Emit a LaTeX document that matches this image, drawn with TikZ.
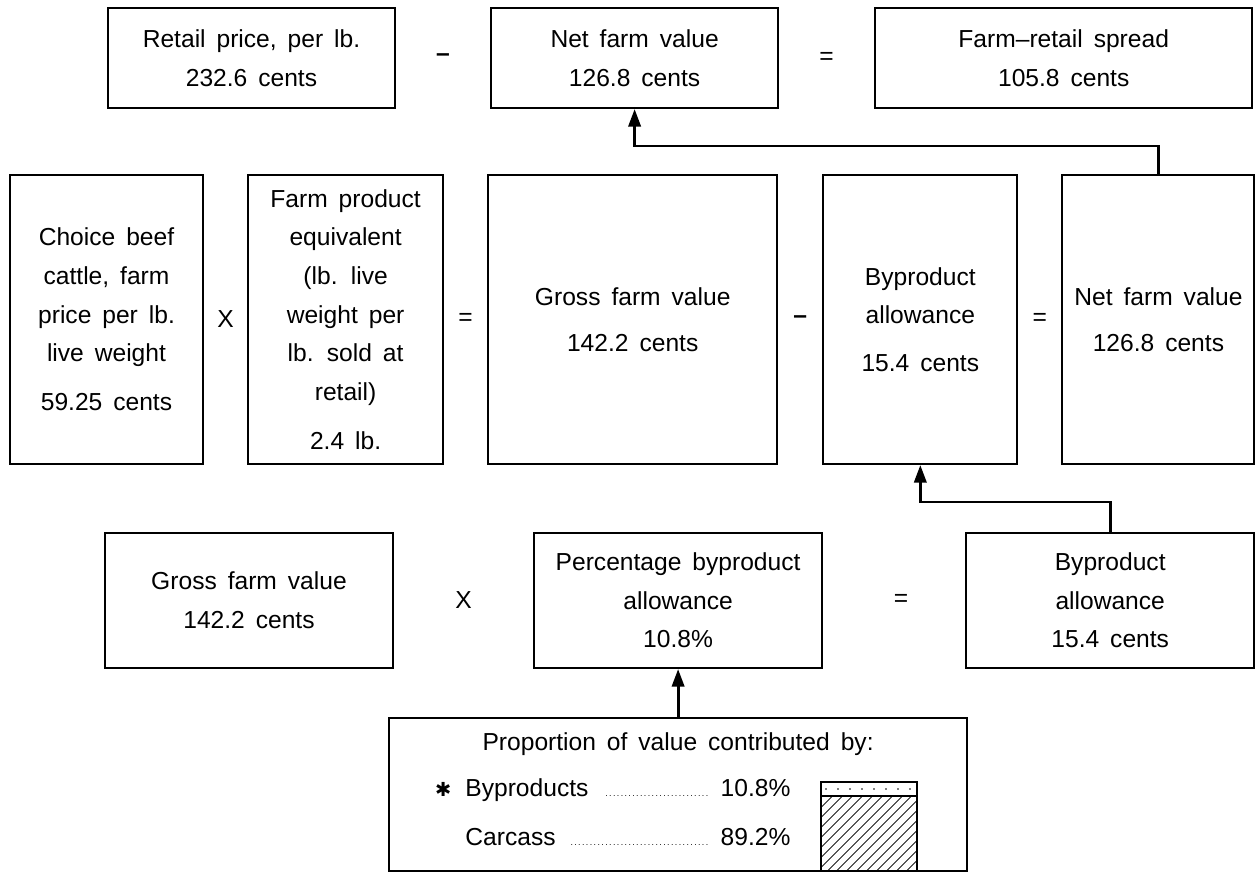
\documentclass[tikz,border=0pt]{standalone}
\usepackage{fontspec}
\setmainfont{Liberation Sans}[WordSpace=1.6]
\newfontfamily\symfont{DejaVu Sans}
\usetikzlibrary{arrows.meta,positioning,calc,patterns.meta}
\newcommand\dotlead{\leaders\hbox to 2.2pt{\hss\tiny.\hss}\hfill}
\tikzset{
  box/.style={draw,line width=1.2pt,align=center,inner sep=2pt,font=\fontsize{14}{22}\selectfont},
  op/.style={font=\fontsize{14}{22}\selectfont,inner sep=1pt},
  >={Triangle[length=10pt,width=7pt]}
}

\begin{document}
\begin{tikzpicture}[
      top/.style={box,minimum width=5.74cm,minimum height=2cm},
      mid/.style={box,minimum height=5.78cm},
      low/.style={box,minimum width=5.76cm,minimum height=2.7cm},
      txt/.style={font=\fontsize{14}{22}\selectfont,inner sep=0pt},
      link/.style={->,line width=1.6pt}]
    \useasboundingbox (0,0) rectangle (25.16,-17.46);
    \node[top] (retail) at (5.03,-1.16) {Retail price, per lb.\\ 232.6 cents};
    \node[top,right=1.88cm of retail] (nettop) {Net farm value\\ 126.8 cents};
    \node[top,minimum width=7.54cm,right=1.9cm of nettop] (spread) {Farm--retail spread\\ 105.8 cents};
    \node[op,font=\fontsize{14}{22}\selectfont\bfseries] (minus1) at ($(retail.east)!0.5!(nettop.west)$) {--};
    \node[op] (eq1) at ($(nettop.east)!0.5!(spread.west)$) {=};
    \node[mid,minimum width=3.86cm] (beef) at (2.13,-6.39) {Choice beef\\ cattle, farm\\ price per lb.\\ live weight\\[6pt] 59.25 cents};
    \node[mid,minimum width=3.9cm,right=0.86cm of beef] (fpe) {Farm product\\ equivalent\\ (lb. live\\ weight per\\ lb. sold at\\ retail)\\[6pt] 2.4 lb.};
    \node[mid,minimum width=5.78cm,right=0.86cm of fpe] (gross) {Gross farm value\\[4pt] 142.2 cents};
    \node[mid,minimum width=3.88cm,right=0.88cm of gross] (byp) {Byproduct\\ allowance\\[5pt] 15.4 cents};
    \node[mid,minimum width=3.84cm,right=0.86cm of byp] (netmid) {Net farm value\\[4pt] 126.8 cents};
    \node[op] (times1) at ($(beef.east)!0.5!(fpe.west)$) {X};
    \node[op] (eq2) at ($(fpe.east)!0.5!(gross.west)$) {=};
    \node[op,font=\fontsize{14}{22}\selectfont\bfseries] (minus2) at ($(gross.east)!0.5!(byp.west)$) {--};
    \node[op] (eq3) at ($(byp.east)!0.5!(netmid.west)$) {=};
    \node[low] (grosslow) at (4.98,-12.01) {Gross farm value\\ 142.2 cents};
    \node[low,right=2.78cm of grosslow] (pct) {Percentage byproduct\\ allowance\\ 10.8\%};
    \node[low,right=2.84cm of pct] (byplow) {Byproduct\\ allowance\\ 15.4 cents};
    \node[op] (times2) at ($(grosslow.east)!0.5!(pct.west)$) {X};
    \node[op,xshift=0.14cm] (eq4) at ($(pct.east)!0.5!(byplow.west)$) {=};
    \node[box,minimum width=11.56cm,minimum height=3.06cm,below=0.96cm of pct] (prop) {};
    \node[txt] (ptitle) at ($(prop.north)+(0,-0.54)$) {Proportion of value contributed by:};
    \node[txt,anchor=west] (byline) at ($(prop.north west)+(1.54,-1.46)$) {\llap{{\symfont\fontsize{11}{11}\selectfont ✱}\hspace{8pt}}\makebox[6.5cm]{Byproducts\hspace{0.26cm}\dotlead\hspace{0.22cm}10.8\%}};
    \node[txt,anchor=west] (carline) at ($(prop.north west)+(1.54,-2.4)$) {\makebox[6.5cm]{Carcass\hspace{0.24cm}\dotlead\hspace{0.18cm}89.2\%}};
    \draw[line width=0.8pt] (16.42,-15.64) rectangle (18.34,-15.92);
    \foreach \i in {0,...,7} \fill (16.52+\i*0.24,-15.78) circle (0.5pt);
    \draw[line width=0.8pt,pattern={Lines[angle=45,distance=4pt,line width=0.5pt]}] (16.42,-15.92) rectangle (18.34,-17.42);
    \draw[link] (netmid.north)--+(0,0.56)-|(nettop.south);
    \draw[link] (byplow.north)--+(0,0.6)-|(byp.south);
    \draw[link] (prop.north)--(pct.south);
  \end{tikzpicture}
\end{document}
